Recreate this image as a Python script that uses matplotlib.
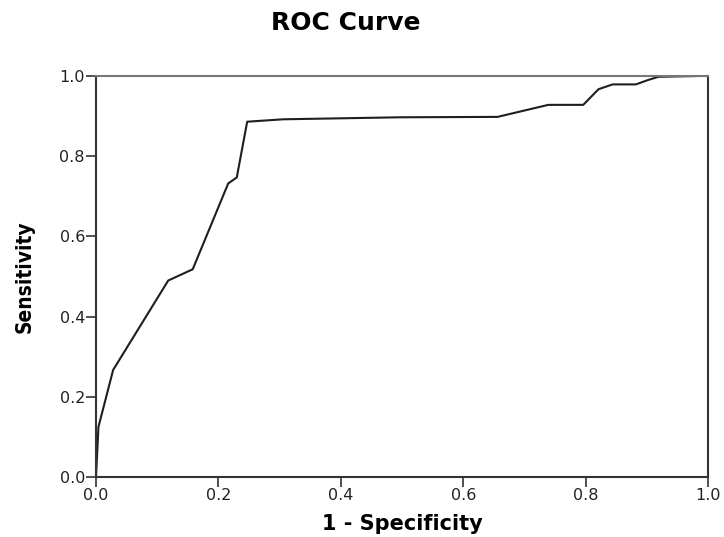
import matplotlib
matplotlib.use('Agg')
import matplotlib.pyplot as plt

# ROC points
fpr = [0.0, 0.004, 0.028, 0.118, 0.158, 0.216, 0.23, 0.247, 0.306, 0.497,
       0.656, 0.739, 0.796, 0.821, 0.844, 0.882, 0.902, 0.919, 0.987, 1.0]
tpr = [0.0, 0.125, 0.267, 0.49, 0.518, 0.732, 0.747, 0.886, 0.892, 0.897,
       0.898, 0.928, 0.928, 0.967, 0.979, 0.979, 0.99, 0.998, 1.0, 1.0]
ticks = [0.0, 0.2, 0.4, 0.6, 0.8, 1.0]
tick_labels = ['0.0', '0.2', '0.4', '0.6', '0.8', '1.0']

fig = plt.figure(figsize=(7.24, 5.37), dpi=100)
ax = fig.add_axes([0.1326, 0.1117, 0.8454, 0.7468])

ax.plot(fpr, tpr, color='#1e1e1e', linewidth=1.5)

ax.set_xlim(0, 1)
ax.set_ylim(0, 1)
ax.set_xticks(ticks)
ax.set_xticklabels(tick_labels)
ax.set_yticks(ticks)
ax.set_yticklabels(tick_labels)
ax.tick_params(axis='both', length=7, width=1.2, color='#333333',
               labelsize=11.5, labelcolor='#222222', pad=1)
for side in ['left', 'bottom', 'right']:
    ax.spines[side].set_color('#333333')
    ax.spines[side].set_linewidth(1.5)
ax.spines['top'].set_color('#777777')
ax.spines['top'].set_linewidth(1.5)

ax.set_xlabel('1 - Specificity', fontsize=15, fontweight='bold', labelpad=8)
ax.set_ylabel('Sensitivity', fontsize=15, fontweight='bold', labelpad=18,
              fontstretch='condensed')

fig.text(0.478, 0.957, 'ROC Curve', fontsize=18, fontweight='bold',
         ha='center', va='center')

fig.savefig('out.png', dpi=100)
